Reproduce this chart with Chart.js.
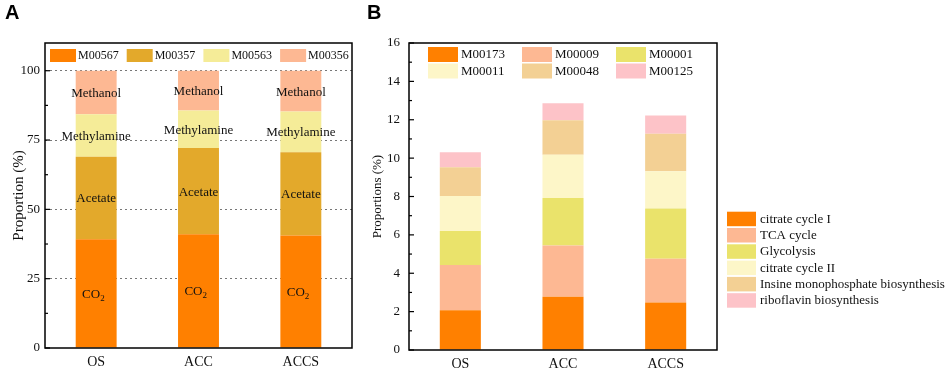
<!DOCTYPE html>
<html>
<head>
<meta charset="utf-8">
<script src="https://cdn.jsdelivr.net/npm/chart.js@4/dist/chart.umd.min.js"></script>
<style>
  body { margin: 0; background: #fff; }
  .wrap { display: flex; width: 948px; height: 371px; }
  #boxA { position: relative; width: 360px; height: 371px; }
  #boxB { position: relative; width: 588px; height: 371px; }
</style>
</head>
<body>
<div class="wrap">
  <div id="boxA"><canvas id="chartA"></canvas></div>
  <div id="boxB"><canvas id="chartB"></canvas></div>
</div>
<script>
// panel A data
const groups = ['OS', 'ACC', 'ACCS'];
const aModules = ['M00567', 'M00357', 'M00563', 'M00356'];
const aNames = ['CO2', 'Acetate', 'Methylamine', 'Methanol'];
const co2 = [39.2, 41.0, 40.6];
const acetate = [29.8, 31.1, 30.0];
const methylamine = [15.3, 13.6, 14.7];
const methanol = [15.7, 14.3, 14.7];
const aColors = ['#FF8000', '#E3A92B', '#F5EC98', '#FDB893'];
const aTicks = [0, 12.5, 25, 37.5, 50, 62.5, 75, 87.5, 100];
const aGrid = [25, 50, 75, 100];

// panel B data
const bModules = ['M00173', 'M00009', 'M00001', 'M00011', 'M00048', 'M00125'];
const bNames = ['citrate cycle I', 'TCA cycle', 'Glycolysis', 'citrate cycle II',
  'Insine monophosphate biosynthesis', 'riboflavin biosynthesis'];
const m00173 = [2.07, 2.78, 2.47];
const m00009 = [2.36, 2.67, 2.29];
const m00001 = [1.77, 2.47, 2.62];
const m00011 = [1.82, 2.26, 1.93];
const m00048 = [1.51, 1.80, 1.96];
const m00125 = [0.78, 0.88, 0.95];
const bColors = ['#FF8000', '#FDB893', '#EAE36B', '#FDF6C8', '#F3D094', '#FDC3C8'];
const bTicks = [0, 1, 2, 3, 4, 5, 6, 7, 8, 9, 10, 11, 12, 13, 14, 15, 16];

const serif = '"Liberation Serif", "Times New Roman", serif';

// frame, inward ticks, panel letter, legends, bar labels
const decor = {
  id: 'decor',
  afterDraw(chart, args, o) {
    const ctx = chart.ctx;
    const a = chart.chartArea;
    const ys = chart.scales.y;
    ctx.save();

    ctx.strokeStyle = '#000';
    ctx.lineWidth = 1.5;
    ctx.strokeRect(a.left, a.top, a.right - a.left, a.bottom - a.top);

    ctx.lineWidth = 1.2;
    o.ticks.forEach(v => {
      const y = ys.getPixelForValue(v);
      const len = o.major(v) ? 5 : 3;
      ctx.beginPath();
      ctx.moveTo(a.left, y);
      ctx.lineTo(a.left + len, y);
      ctx.stroke();
    });

    ctx.fillStyle = '#000';
    ctx.font = 'bold 20px "Liberation Sans", Arial, sans-serif';
    ctx.textBaseline = 'top';
    ctx.textAlign = 'left';
    ctx.fillText(o.letter, o.letterX, 3);

    // top legend inside plot
    const L = o.legend;
    ctx.font = L.font + 'px ' + serif;
    ctx.textBaseline = 'middle';
    chart.data.datasets.forEach((ds, i) => {
      const col = i % L.cols, row = Math.floor(i / L.cols);
      const x = a.left + L.x0 + col * L.dx;
      const y = L.y0 + row * L.dy;
      ctx.fillStyle = ds.backgroundColor;
      ctx.fillRect(x, y, L.w, L.h);
      ctx.fillStyle = '#111';
      ctx.fillText(ds.label, x + L.tx, y + L.h / 2 + 0.5);
    });

    // side legend
    if (o.side) {
      const S = o.side;
      ctx.font = '13px ' + serif;
      S.names.forEach((name, i) => {
        const y = S.y0 + i * S.dy;
        ctx.fillStyle = chart.data.datasets[i].backgroundColor;
        ctx.fillRect(S.x, y, S.w, S.h);
        ctx.fillStyle = '#111';
        ctx.fillText(name, S.x + 33, y + S.h / 2 + 0.5);
      });
    }

    // labels in bar segments
    if (o.segLabels) {
      ctx.font = '13px ' + serif;
      ctx.textAlign = 'center';
      ctx.textBaseline = 'middle';
      ctx.fillStyle = '#111';
      o.segLabels.forEach((name, i) => {
        chart.getDatasetMeta(i).data.forEach(bar => {
          const cy = (bar.y + bar.base) / 2 + 1;
          if (name === 'CO2') {
            ctx.textAlign = 'right';
            ctx.fillText('CO', bar.x + 4, cy);
            ctx.font = '9px ' + serif;
            ctx.textAlign = 'left';
            ctx.fillText('2', bar.x + 4, cy + 4);
            ctx.font = '13px ' + serif;
            ctx.textAlign = 'center';
          } else {
            ctx.fillText(name, bar.x, cy);
          }
        });
      });
    }
    ctx.restore();
  }
};

function makeChart(id, datasets, cfg) {
  return new Chart(document.getElementById(id), {
    type: 'bar',
    data: { labels: groups, datasets: datasets },
    options: {
      responsive: true,
      maintainAspectRatio: false,
      animation: false,
      layout: { padding: { top: 43, right: cfg.padRight, left: 0, bottom: 0 } },
      datasets: { bar: { categoryPercentage: 1, barPercentage: 0.4 } },
      plugins: {
        legend: { display: false },
        tooltip: { enabled: false },
        decor: cfg.decor
      },
      scales: {
        x: {
          stacked: true,
          grid: { display: false, drawTicks: false },
          border: { display: false },
          ticks: { font: { family: serif, size: 14 }, color: '#111', padding: 6 },
          afterFit: s => { s.height = cfg.xHeight; }
        },
        y: {
          stacked: true,
          min: 0,
          max: cfg.max,
          afterBuildTicks: s => { s.ticks = cfg.ticks.map(v => ({ value: v })); },
          afterFit: s => { s.width = cfg.yWidth; },
          grid: {
            drawTicks: false,
            color: c => (cfg.grid.includes(c.tick && c.tick.value) ? '#777' : 'rgba(0,0,0,0)'),
            lineWidth: 1
          },
          border: { display: false, dash: [2, 3] },
          ticks: {
            font: { family: serif, size: 13 },
            color: '#111',
            padding: cfg.tickPad,
            callback: v => (cfg.decor.major(v) ? v : '')
          },
          title: {
            display: true,
            text: cfg.title,
            font: { family: serif, size: cfg.titleSize },
            color: '#111',
            padding: { top: cfg.titlePad, bottom: 0 }
          }
        }
      }
    },
    plugins: [decor]
  });
}

const aSeries = [co2, acetate, methylamine, methanol];
makeChart('chartA', aModules.map((m, i) => ({
  label: m, data: aSeries[i], backgroundColor: aColors[i]
})), {
  padRight: 8, xHeight: 23, yWidth: 45, max: 110, ticks: aTicks, grid: aGrid,
  tickPad: 5, title: 'Proportion (%)', titleSize: 15, titlePad: 10,
  decor: {
    ticks: aTicks, major: v => v % 25 === 0, letter: 'A', letterX: 5,
    legend: { font: 12, cols: 4, x0: 5, dx: 76.7, y0: 49, dy: 0, w: 26, h: 13, tx: 28 },
    segLabels: aNames
  }
});

const bSeries = [m00173, m00009, m00001, m00011, m00048, m00125];
makeChart('chartB', bModules.map((m, i) => ({
  label: m, data: bSeries[i], backgroundColor: bColors[i]
})), {
  padRight: 231, xHeight: 21, yWidth: 49, max: 16, ticks: bTicks, grid: [],
  tickPad: 9, title: 'Proportions (%)', titleSize: 13, titlePad: 10,
  decor: {
    ticks: bTicks, major: v => v % 2 === 0, letter: 'B', letterX: 7,
    legend: { font: 13, cols: 3, x0: 19, dx: 94, y0: 47, dy: 16.5, w: 30, h: 15, tx: 33 },
    side: { names: bNames, x: 367, y0: 211.7, dy: 16.3, w: 29, h: 14.5 }
  }
});
</script>
</body>
</html>
